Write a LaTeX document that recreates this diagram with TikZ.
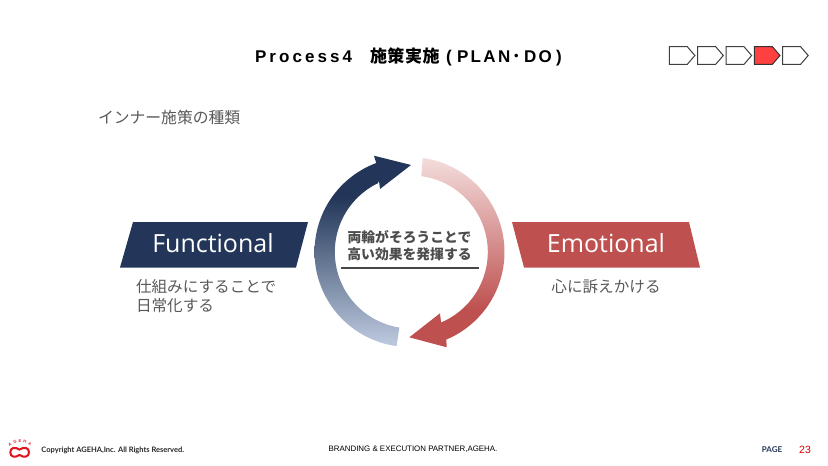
\documentclass[tikz,border=0pt]{standalone}
\usepackage{fontspec}
\setmainfont{Noto Sans}
\newfontfamily\jp{Noto Sans CJK JP}
\newfontfamily\lat{Open Sans}
\newfontfamily\foot{Lato}
\newfontfamily\ls{Liberation Sans}
\newfontfamily\lsa[LetterSpace=18]{Liberation Sans}
\newfontfamily\lsb[LetterSpace=14]{Liberation Sans}
\newfontfamily\jpw[LetterSpace=3]{Noto Sans CJK JP}
\definecolor{navy}{HTML}{233659}
\definecolor{navyl}{HTML}{BDCADF}
\definecolor{redm}{HTML}{BE5150}
\definecolor{redl}{HTML}{F3DEDD}
\definecolor{greyt}{HTML}{595959}
\definecolor{logored}{HTML}{E0141E}
\pgfdeclareverticalshading{navyring}{100bp}{color(0bp)=(navyl); color(25bp)=(navyl); color(64bp)=(navy); color(75bp)=(navy); color(100bp)=(navy)}
\pgfdeclareverticalshading{redring}{100bp}{color(0bp)=(redm); color(35bp)=(redm); color(75bp)=(redl); color(100bp)=(redl)}
\tikzset{
  x=1pt,y=-1pt,
  txt/.style={inner sep=0pt,outer sep=0pt},
  ttl/.style={txt,anchor=base west,text=black,font=\fontsize{17}{17}\selectfont\bfseries},
  pent/.style={draw=black!75,line width=1pt,fill=white,line join=miter},
  banner/.style={txt,text=white,font=\lat\fontsize{25}{25}\selectfont},
  lbl/.style={txt,text=greyt,font=\jp\fontsize{15.6}{19}\selectfont,align=left},
  logol/.style={txt,text=logored,font=\ls\bfseries\fontsize{4}{4}\selectfont},
}
\begin{document}
\begin{tikzpicture}
\useasboundingbox (0,0) rectangle (828,466);
\fill[white] (0,0) rectangle (828,466);
% title
\node[ttl] (t1) at (255,62.5) {\lsa Process4};
\node[ttl] (t2) at (370,62.5) {\jpw 施策実施};
\node[ttl] (t3) at (446,62.5) {\ls (};
\node[ttl] (t4) at (457,62.5) {\lsb PLAN};
\node[ttl] (t5) at (512,62.5) {\jp ･};
\node[ttl] (t6) at (524,62.5) {\lsb DO};
\node[ttl] (t7) at (556,62.5) {\ls )};
% pentagons
\foreach \i/\xa in {0/669.3,1/697.7,2/726,4/782.6}{
  \draw[pent] (\xa,46.7) -- ++(18,0) -- ++(7.6,8.8) -- ++(-7.6,8.8) -- ++(-18,0) -- cycle;
}
\draw[pent,fill=red!75!white,draw=black!80] (754.4,46.7) -- ++(18,0) -- ++(7.6,8.8) -- ++(-7.6,8.8) -- ++(-18,0) -- cycle;
% subtitle
\node[txt,anchor=west,text=greyt,font=\jp\fontsize{15.8}{15.8}\selectfont] (sub) at (98,117) {インナー施策の種類};
% banners
\fill[navy] (133,222) -- (308,222) -- (296,267.5) -- (120,267.5) -- cycle;
\node[banner] (fn) at (213,243.5) {Functional};
\fill[redm] (512,222) -- (689,222) -- (700,267.5) -- (524,267.5) -- cycle;
\node[banner] (em) at (606,243.5) {Emotional};
\node[lbl,anchor=north west] (fnl) at (136,279) {仕組みにすることで\\日常化する};
\node[lbl,anchor=north] (eml) at (606,279) {心に訴えかける};
% ring arrows
\def\cx{409.5}\def\cy{252}\def\ix{411.3}
\begin{scope}
\clip
  plot[domain=97.8:249.5,samples=60] ({\cx+95*cos(\x)},{\cy+95*sin(\x)})
  -- (374,155.7) -- (411,165) -- (380,189) -- (379,181)
  -- plot[domain=244:99,samples=60] ({\ix+76.5*cos(\x)},{\cy+76.5*sin(\x)}) -- cycle;
\shade[shading=navyring] (300,155.7) rectangle (420,345.5);
\end{scope}
\begin{scope}
\clip
  plot[domain=-82:67.2,samples=60] ({\cx+95*cos(\x)},{\cy+95*sin(\x)})
  -- (446.7,347.3) -- (409.3,337.3) -- (440,313.3) -- (441,321.7)
  -- plot[domain=67:-82.5,samples=60] ({\ix+76.5*cos(\x)},{\cy+76.5*sin(\x)}) -- cycle;
\shade[shading=redring] (405,157) rectangle (515,347.3);
\end{scope}
% centre
\node[txt,align=center,text=black!70,font=\jp\bfseries\fontsize{13.8}{17}\selectfont] (ctr) at (409.5,246) {両輪がそろうことで\\高い効果を発揮する};
\coordinate (ua) at (340.5,267.7);
\coordinate (ub) at (479,267.7);
\draw[line width=2pt,black!72] (ua) -- (ub);
% footer logo
\draw[logored,line width=2pt] (19.5,449.6) .. controls (15,446.5) and (10.3,447.5) .. (10.3,452.3) .. controls (10.3,457) and (15,458) .. (19.5,455) .. controls (24,458) and (29,457) .. (29,452.3) .. controls (29,447.5) and (24,446.5) .. (19.5,449.6) -- cycle;
\node[logol,rotate=30] (la) at (10,444.3) {A};
\node[logol,rotate=15] (lg) at (15,441.8) {G};
\node[logol] (le) at (20,441) {E};
\node[logol,rotate=-15] (lh) at (25,441.8) {H};
\node[logol,rotate=-30] (lb) at (29.7,444.3) {A};
\node[txt,text=black!85,font=\foot\bfseries\fontsize{7.5}{7.5}\selectfont,anchor=west] (copy) at (41.5,450.5) {Copyright AGEHA,Inc. All Rights Reserved.};
\node[txt,text=black,font=\ls\fontsize{7.9}{7.9}\selectfont] (brand) at (413,449) {BRANDING \& EXECUTION PARTNER,AGEHA.};
\node[txt,text=navy,font=\foot\bfseries\fontsize{8}{8}\selectfont] (page) at (772,449.5) {PAGE};
\node[txt,text=red!85!black,font=\ls\fontsize{10.5}{10.5}\selectfont] (num) at (805,449.5) {23};
\end{tikzpicture}
\end{document}
